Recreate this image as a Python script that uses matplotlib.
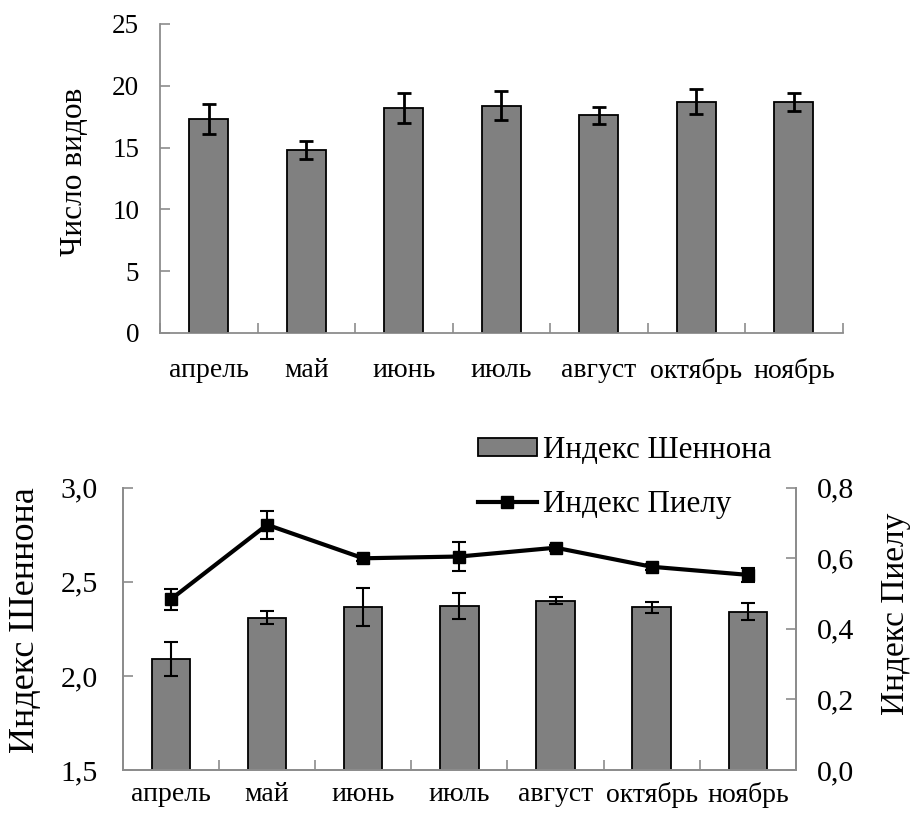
import numpy as np
import matplotlib.pyplot as plt
from matplotlib.ticker import MultipleLocator, FixedLocator

plt.rcParams['font.family'] = ['Liberation Serif', 'DejaVu Serif']

months = ['апрель', 'май', 'июнь', 'июль', 'август', 'октябрь', 'ноябрь']

# число видов
species = [17.3, 14.8, 18.2, 18.4, 17.6, 18.7, 18.7]
species_err = [1.2, 0.7, 1.2, 1.2, 0.7, 1.0, 0.75]

# индекс Шеннона
shannon = [2.09, 2.31, 2.365, 2.37, 2.40, 2.365, 2.34]
shannon_err = [0.09, 0.035, 0.10, 0.07, 0.02, 0.03, 0.045]

# индекс Пиелу
pielou = [0.484, 0.695, 0.60, 0.605, 0.63, 0.576, 0.553]
pielou_err = [0.03, 0.04, 0.008, 0.04, 0.008, 0.008, 0.02]

GRAY = '#808080'
SPINE = '#8c8c8c'

fig = plt.figure(figsize=(9.17, 8.16), dpi=100)
x = np.arange(len(months))


def style_x(ax, pad):
    ax.set_xlim(-0.5, len(months) - 0.5)
    ax.set_xticks(x)
    ax.set_xticklabels(months, fontsize=20)
    ax.tick_params(axis='x', which='major', length=0, pad=pad)
    ax.xaxis.set_minor_locator(FixedLocator(np.arange(-0.5, len(months), 1.0)))
    ax.tick_params(axis='x', which='minor', direction='in', length=7,
                   color=SPINE, width=1.2)


# ---- верхний график ----
ax1 = fig.add_axes([0.1745, 0.592, 0.7445, 0.3786])
ax1.bar(x, species, width=0.4, color=GRAY, edgecolor='black', linewidth=1.3,
        zorder=2)
ax1.errorbar(x, species, yerr=species_err, fmt='none', ecolor='black',
             elinewidth=2, capsize=5, capthick=2, zorder=3)
ax1.set_ylim(0, 25)
ax1.yaxis.set_major_locator(MultipleLocator(5))
ax1.tick_params(axis='y', direction='in', length=7, color=SPINE, width=1.2,
                labelsize=19.5, pad=15)
style_x(ax1, 18)
for s in ['top', 'right']:
    ax1.spines[s].set_visible(False)
for s in ['left', 'bottom']:
    ax1.spines[s].set_color(SPINE)
    ax1.spines[s].set_linewidth(1.3)
ax1.set_ylabel('Число видов', fontsize=22.5)
ax1.yaxis.set_label_coords(-0.104, 0.52)

# ---- нижний график ----
ax2 = fig.add_axes([0.134, 0.0564, 0.734, 0.3459])
bars = ax2.bar(x, shannon, width=0.4, color=GRAY, edgecolor='black',
               linewidth=1.3, zorder=2, label='Индекс Шеннона')
ax2.errorbar(x, shannon, yerr=shannon_err, fmt='none', ecolor='black',
             elinewidth=1.5, capsize=5, capthick=1.5, zorder=3)
ax2.set_ylim(1.5, 3.0)
ax2.yaxis.set_major_locator(MultipleLocator(0.5))
ax2.yaxis.set_major_formatter(lambda v, p: f'{v:.1f}'.replace('.', ','))
ax2.tick_params(axis='y', direction='in', length=7, color=SPINE, width=1.2,
                labelsize=21.5, pad=18)
style_x(ax2, 9)
ax2.spines['top'].set_visible(False)
for s in ['left', 'bottom', 'right']:
    ax2.spines[s].set_color(SPINE)
    ax2.spines[s].set_linewidth(1.3)
ax2.set_ylabel('Индекс Шеннона', fontsize=26)
ax2.yaxis.set_label_coords(-0.120, 0.53)

ax3 = ax2.twinx()
line, = ax3.plot(x, pielou, color='black', linewidth=3, marker='s',
                 markersize=9, zorder=4, label='Индекс Пиелу')
ax3.errorbar(x, pielou, yerr=pielou_err, fmt='none', ecolor='black',
             elinewidth=1.5, capsize=5, capthick=1.5, zorder=3)
ax3.set_ylim(0, 0.8)
ax3.yaxis.set_major_locator(MultipleLocator(0.2))
ax3.yaxis.set_major_formatter(lambda v, p: f'{v:.1f}'.replace('.', ','))
ax3.tick_params(axis='y', direction='in', length=7, color=SPINE, width=1.2,
                labelsize=21.5, pad=15)
ax3.spines['top'].set_visible(False)
for s in ['left', 'bottom', 'right']:
    ax3.spines[s].set_color(SPINE)
    ax3.spines[s].set_linewidth(1.3)
ax3.set_ylabel('Индекс Пиелу', fontsize=24)
ax3.yaxis.set_label_coords(1.125, 0.555)

fig.legend([bars, line], ['Индекс Шеннона', 'Индекс Пиелу'],
           loc='upper left', bbox_to_anchor=(0.521, 0.466), frameon=False,
           fontsize=22.3, borderpad=0, borderaxespad=0, handlelength=1.9,
           handleheight=0.5, handletextpad=0.2, labelspacing=0.8)

fig.savefig('out.png', dpi=100)
